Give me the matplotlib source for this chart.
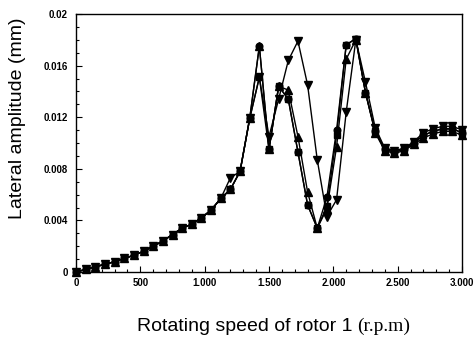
import matplotlib
matplotlib.use("Agg")
import matplotlib.pyplot as plt
from matplotlib.ticker import MultipleLocator, FixedLocator

speed = list(range(0, 3001, 75))

common_low = [0, 0.0002, 0.0004, 0.0006, 0.0008, 0.00105, 0.0013, 0.0016, 0.002, 0.0024,
              0.0029, 0.0034, 0.0037, 0.0042, 0.0048, 0.0057]

sq_vals = common_low + [0.0064, 0.0078, 0.0119, 0.0151, 0.0095, 0.0144, 0.0134, 0.0093, 0.0052,
                        0.0034, 0.0051, 0.0106, 0.0176, 0.0181, 0.0139, 0.0109, 0.0095, 0.0093,
                        0.0095, 0.0100, 0.0106, 0.0109, 0.0111, 0.0111, 0.0108]
ci_vals = common_low + [0.0064, 0.0078, 0.0119, 0.0175, 0.0095, 0.0144, 0.0134, 0.0093, 0.0052,
                        0.0034, 0.0058, 0.0110, 0.0176, 0.0181, 0.0139, 0.0109, 0.0095, 0.0093,
                        0.0095, 0.0100, 0.0106, 0.0109, 0.0111, 0.0111, 0.0108]
up_vals = common_low + [0.0064, 0.0078, 0.0119, 0.0175, 0.0095, 0.0144, 0.0141, 0.0105, 0.0062,
                        0.0034, 0.0049, 0.0097, 0.0165, 0.0180, 0.0139, 0.0108, 0.0094, 0.0092,
                        0.0094, 0.0099, 0.0104, 0.0107, 0.0109, 0.0109, 0.0106]
dn_vals = common_low + [0.0073, 0.0078, 0.0119, 0.0151, 0.0105, 0.0134, 0.0164, 0.0179, 0.0145,
                        0.0087, 0.0043, 0.0056, 0.0124, 0.0180, 0.0147, 0.0112, 0.0096, 0.0094,
                        0.0096, 0.0101, 0.0108, 0.0111, 0.0113, 0.0113, 0.0110]

xticks = [0, 500, 1000, 1500, 2000, 2500, 3000]
xticklabels = ["0", "500", "1.000", "1.500", "2.000", "2.500", "3.000"]
yticks = [0, 0.004, 0.008, 0.012, 0.016, 0.02]
yticklabels = ["0", "0.004", "0.008", "0.012", "0.016", "0.02"]

plt.rcParams['font.family'] = ['Liberation Sans', 'DejaVu Sans']

fig = plt.figure(figsize=(4.76, 3.38), dpi=100)
ax = fig.add_axes([76/476, 1-272/338, (462-76)/476, (272-14)/338])

for vals, m, ms in [(sq_vals, 's', 4.2), (ci_vals, 'o', 4.8), (up_vals, '^', 5.2), (dn_vals, 'v', 5.2)]:
    ax.plot(speed, vals, color='black', lw=1.0, marker=m, ms=ms, mfc='black', mec='black', clip_on=False)

ax.set_xlim(0, 3000)
ax.set_ylim(0, 0.02)
ax.xaxis.set_major_locator(FixedLocator(xticks))
ax.set_xticklabels(xticklabels, fontsize=7, fontweight='bold')
ax.xaxis.set_minor_locator(MultipleLocator(100))
ax.yaxis.set_major_locator(FixedLocator(yticks))
ax.set_yticklabels(yticklabels, fontsize=7, fontweight='bold')
ax.yaxis.set_minor_locator(MultipleLocator(0.001))
ax.tick_params(which='both', direction='in', top=False, right=False, width=0.8)
ax.tick_params(which='major', length=4)
ax.tick_params(axis='y', which='major', pad=6)
ax.tick_params(axis='x', which='major', pad=4)
ax.tick_params(which='minor', length=2)
for s in ax.spines.values():
    s.set_linewidth(1.0)

ax.set_ylabel("Lateral amplitude (mm)", fontsize=14)
ax.yaxis.set_label_coords(-0.13, 0.595)

t1 = fig.text(0.5, 1-331/338, "Rotating speed of rotor 1 ", fontsize=14, ha='left', va='baseline')
t2 = fig.text(0.5, 1-331/338, "(r.p.m)", fontsize=14, ha='left', va='baseline', family='Liberation Serif')
fig.canvas.draw()
r = fig.canvas.get_renderer()
w1 = t1.get_window_extent(r).width
w2 = t2.get_window_extent(r).width
left = 273.5 - (w1 + w2) / 2
t1.set_x(left / 476)
t2.set_x((left + w1) / 476)

fig.savefig("out.png", dpi=100)
